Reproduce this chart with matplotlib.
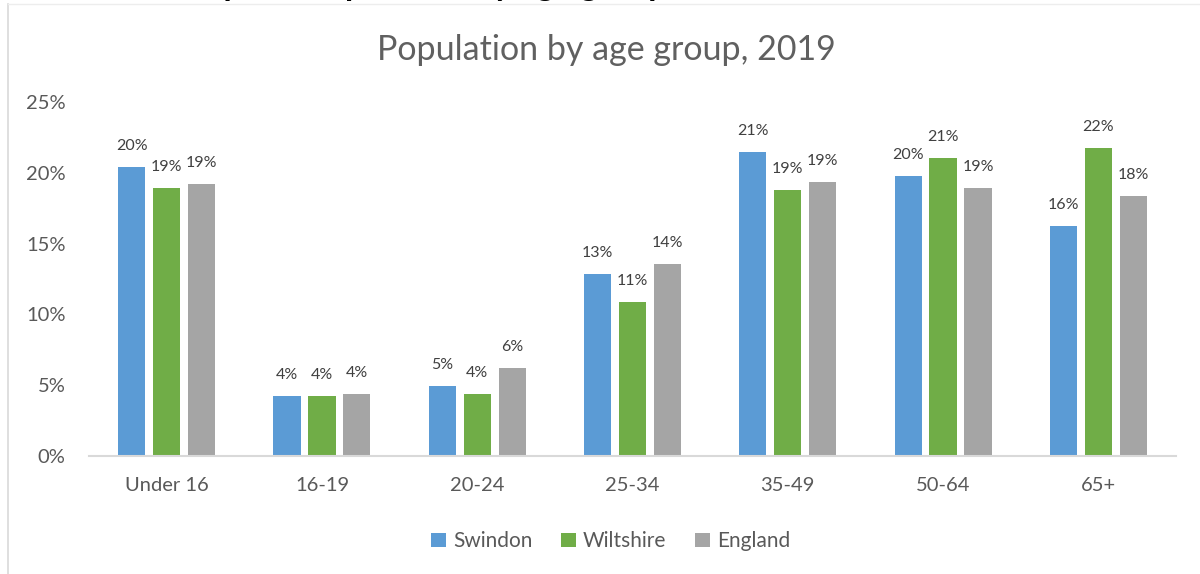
import matplotlib
matplotlib.use("Agg")
import matplotlib.pyplot as plt
import numpy as np
from matplotlib.lines import Line2D

# Age-group shares of total population, 2019 (%)
age_groups = ["Under 16", "16-19", "20-24", "25-34", "35-49", "50-64", "65+"]
swindon = [20.4, 4.24, 4.94, 12.85, 21.47, 19.77, 16.24]
wiltshire = [18.9, 4.24, 4.38, 10.88, 18.79, 21.05, 21.75]
england = [19.2, 4.38, 6.2, 13.56, 19.35, 18.93, 18.36]
series_names = ["Swindon", "Wiltshire", "England"]
y_ticks = [0, 5, 10, 15, 20, 25]

colors = ["#5B9BD5", "#70AD47", "#A5A5A5"]
text_grey = "#595959"
font = ["Lato", "DejaVu Sans"]
plt.rcParams["font.family"] = font

W, H = 1200, 574
fig = plt.figure(figsize=(W / 100, H / 100), dpi=100)

# axes placement in pixel terms
left, right, top, bottom = 89, 1176, 102, 456
ax = fig.add_axes([left / W, 1 - bottom / H, (right - left) / W, (bottom - top) / H])

x = np.arange(len(age_groups))
bar_w = 0.175
step = 0.225
for i, (vals, name) in enumerate(zip([swindon, wiltshire, england], series_names)):
    pos = x + (i - 1) * step
    bars = ax.bar(pos, vals, width=bar_w, color=colors[i], label=name, zorder=2)
    for b, v in zip(bars, vals):
        ax.annotate(f"{v:.0f}%", (b.get_x() + b.get_width() / 2, v),
                    xytext=(0, 10), textcoords="offset points",
                    ha="center", va="bottom", fontsize=11.5, color="#404040")

ax.set_xlim(-0.5, len(age_groups) - 0.5)
ax.set_ylim(0, 25)
ax.set_yticks(y_ticks)
ax.set_yticklabels([f"{t}%" for t in y_ticks])
ax.set_xticks(x)
ax.set_xticklabels(age_groups)
ax.tick_params(axis="both", length=0, labelsize=14.5, colors=text_grey)
ax.tick_params(axis="y", pad=17)
ax.tick_params(axis="x", pad=15)
for s in ["top", "right", "left"]:
    ax.spines[s].set_visible(False)
ax.spines["bottom"].set_color("#D9D9D9")
ax.spines["bottom"].set_linewidth(1.5)

fig.text(0.505, 1 - 50 / H, "Population by age group, 2019", ha="center", va="center",
         fontsize=24.5, color="#606060")

leg = fig.legend(loc="center", bbox_to_anchor=(0.509, 1 - 541 / H), ncol=3, frameon=False,
                 fontsize=15, handlelength=0.68, handleheight=0.68, handletextpad=0.35,
                 columnspacing=1.4)
for t in leg.get_texts():
    t.set_color(text_grey)

# chart frame
fig.add_artist(Line2D([8 / W, 8 / W], [0, 1 - 4 / H], color="#D9D9D9", lw=1.2))
fig.add_artist(Line2D([8 / W, 1], [1 - 4 / H, 1 - 4 / H], color="#EDEDED", lw=1.0))

# heading above the chart frame
fig.text(170 / W, 1 + 4 / H, "Graph 1: Population by age group", ha="left", va="baseline",
         fontsize=24, fontweight="bold", color="black")

fig.savefig("out.png", dpi=100)
